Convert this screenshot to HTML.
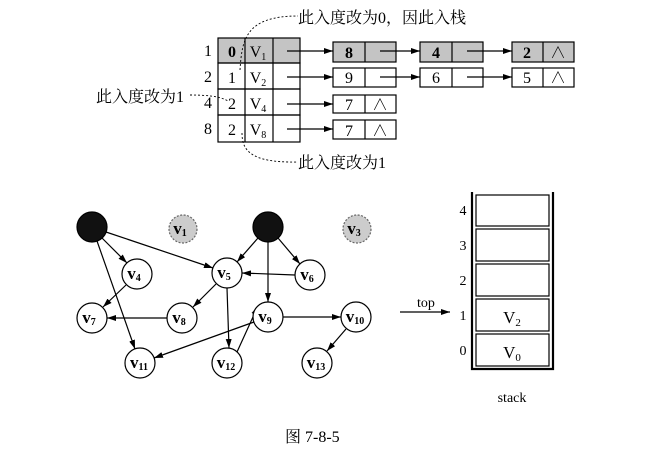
<!DOCTYPE html>
<html><head><meta charset="utf-8"><style>
html,body{margin:0;padding:0;background:#fff;}
svg{display:block;font-family:"Liberation Serif","Noto Serif CJK SC",serif;}
.cn{font-family:"Liberation Serif","Noto Serif CJK SC",serif;font-size:16px;}
</style></head><body>
<svg width="670" height="457" viewBox="0 0 670 457" xmlns="http://www.w3.org/2000/svg">
<defs><marker id="a" markerWidth="9" markerHeight="6" refX="9" refY="3" orient="auto" markerUnits="userSpaceOnUse"><path d="M0,0 L9,3 L0,6 z" fill="#000"/></marker></defs>
<g stroke="#000" stroke-width="1.2" fill="none">
<rect x="218" y="38" width="82" height="25" fill="#c4c4c4"/>
<rect x="218" y="63" width="82" height="26"/>
<rect x="218" y="89" width="82" height="26"/>
<rect x="218" y="115" width="82" height="27"/>
<line x1="245" y1="38" x2="245" y2="142"/><line x1="273" y1="38" x2="273" y2="142"/>
<rect x="333" y="42" width="63" height="20" fill="#c4c4c4"/><line x1="365" y1="42" x2="365" y2="62"/>
<rect x="420" y="42" width="63" height="20" fill="#c4c4c4"/><line x1="452" y1="42" x2="452" y2="62"/>
<rect x="512" y="42" width="62" height="20" fill="#c4c4c4"/><line x1="543" y1="42" x2="543" y2="62"/>
<rect x="333" y="68" width="63" height="19"/><line x1="365" y1="68" x2="365" y2="87"/>
<rect x="420" y="68" width="63" height="19"/><line x1="452" y1="68" x2="452" y2="87"/>
<rect x="512" y="68" width="62" height="19"/><line x1="543" y1="68" x2="543" y2="87"/>
<rect x="333" y="95" width="63" height="18"/><line x1="365" y1="95" x2="365" y2="113"/>
<rect x="333" y="120" width="63" height="19"/><line x1="365" y1="120" x2="365" y2="139"/>
</g>
<g stroke="#000" stroke-width="1.2" marker-end="url(#a)">
<line x1="287" y1="51" x2="333" y2="51"/><line x1="380" y1="51" x2="420" y2="51"/><line x1="467" y1="51" x2="512" y2="51"/>
<line x1="287" y1="77" x2="333" y2="77"/><line x1="380" y1="77" x2="420" y2="77"/><line x1="467" y1="77" x2="512" y2="77"/>
<line x1="287" y1="104" x2="333" y2="104"/><line x1="287" y1="129" x2="333" y2="129"/>
</g>
<g font-size="16" text-anchor="middle">
<text x="208" y="56">1</text><text x="208" y="82">2</text><text x="208" y="108">4</text><text x="208" y="134">8</text>
<text x="232" y="57" font-weight="bold">0</text><text x="232" y="83">1</text><text x="232" y="109">2</text><text x="232" y="135">2</text>
<text x="258" y="57">V<tspan font-size="10" dy="3">1</tspan></text>
<text x="258" y="83">V<tspan font-size="10" dy="3">2</tspan></text>
<text x="258" y="109">V<tspan font-size="10" dy="3">4</tspan></text>
<text x="258" y="135">V<tspan font-size="10" dy="3">8</tspan></text>
<text x="349" y="58" font-weight="bold">8</text><text x="436" y="58" font-weight="bold">4</text><text x="527" y="58" font-weight="bold">2</text>
<text x="349" y="83">9</text><text x="436" y="83">6</text><text x="527" y="83">5</text>
<text x="349" y="110">7</text><text x="349" y="136">7</text>
<text x="558" y="58">∧</text><text x="558" y="83">∧</text><text x="380" y="110">∧</text><text x="380" y="136">∧</text>
</g>
<g stroke="#000" stroke-width="0.9" stroke-dasharray="2,2" fill="none">
<path d="M240,70 C242,40 245,16 298,16"/>
<path d="M190,95 C205,95 220,96 228,101"/>
<path d="M242,133 C242,150 250,163 298,162"/>
</g>
<text class="cn" x="298" y="23">此入度改为0，因此入栈</text>
<text class="cn" x="96" y="102">此入度改为1</text>
<text class="cn" x="298" y="168">此入度改为1</text>
<g stroke="#000" stroke-width="1.2" marker-end="url(#a)">
<line x1="102" y1="238" x2="127" y2="263"/>
<line x1="106" y1="232" x2="213" y2="268"/>
<line x1="97" y1="241" x2="135" y2="349"/>
<line x1="126" y1="285" x2="103" y2="307"/>
<line x1="216" y1="284" x2="193" y2="307"/>
<line x1="227" y1="288" x2="229" y2="348"/>
<line x1="167" y1="318" x2="107" y2="318"/>
<line x1="258" y1="238" x2="237" y2="262"/>
<line x1="278" y1="238" x2="300" y2="264"/>
<line x1="268" y1="242" x2="268" y2="302"/>
<line x1="295" y1="275" x2="242" y2="273"/>
<line x1="283" y1="317" x2="341" y2="317"/>
<line x1="254" y1="322" x2="154" y2="358"/>
<line x1="237" y1="352" x2="258" y2="306"/>
<line x1="346" y1="329" x2="327" y2="351"/>
</g>
<g stroke="#000" stroke-width="1.2" fill="#fff">
<circle cx="92" cy="227" r="15" fill="#111"/><circle cx="268" cy="227" r="15" fill="#111"/>
<circle cx="183" cy="229" r="14" fill="#ccc" stroke="#666" stroke-dasharray="2,1.5"/>
<circle cx="357" cy="229" r="14" fill="#ccc" stroke="#666" stroke-dasharray="2,1.5"/>
<circle cx="137" cy="274" r="15"/><circle cx="227" cy="273" r="15"/><circle cx="310" cy="275" r="15"/>
<circle cx="92" cy="318" r="15"/><circle cx="182" cy="318" r="15"/><circle cx="268" cy="317" r="15"/><circle cx="356" cy="317" r="15"/>
<circle cx="140" cy="363" r="15"/><circle cx="227" cy="363" r="15"/><circle cx="317" cy="363" r="15"/>
</g>
<g font-size="17" text-anchor="middle" font-weight="bold">
<text x="180" y="234">v<tspan font-size="10" dy="2">1</tspan></text>
<text x="354" y="234">v<tspan font-size="10" dy="2">3</tspan></text>
<text x="134" y="279">v<tspan font-size="10" dy="2">4</tspan></text>
<text x="224" y="278">v<tspan font-size="10" dy="2">5</tspan></text>
<text x="307" y="280">v<tspan font-size="10" dy="2">6</tspan></text>
<text x="89" y="323">v<tspan font-size="10" dy="2">7</tspan></text>
<text x="179" y="323">v<tspan font-size="10" dy="2">8</tspan></text>
<text x="265" y="322">v<tspan font-size="10" dy="2">9</tspan></text>
<text x="355" y="322">v<tspan font-size="10" dy="2">10</tspan></text>
<text x="139" y="368">v<tspan font-size="10" dy="2">11</tspan></text>
<text x="226" y="368">v<tspan font-size="10" dy="2">12</tspan></text>
<text x="316" y="368">v<tspan font-size="10" dy="2">13</tspan></text>
</g>
<g stroke="#000" fill="none">
<path d="M472,192 L472,369 L553,369 L553,192" stroke-width="2.2"/>
<g stroke-width="1.2">
<rect x="476" y="195" width="73" height="31"/><rect x="476" y="229" width="73" height="32"/>
<rect x="476" y="264" width="73" height="32"/><rect x="476" y="299" width="73" height="32"/>
<rect x="476" y="334" width="73" height="32"/>
</g>
</g>
<line x1="400" y1="312" x2="450" y2="312" stroke="#000" stroke-width="1.2" marker-end="url(#a)"/>
<g font-size="14" text-anchor="middle">
<text x="463" y="215">4</text><text x="463" y="250">3</text><text x="463" y="285">2</text><text x="463" y="320">1</text><text x="463" y="355">0</text>
<text x="426" y="307">top</text>
<text x="512" y="402">stack</text>
<text x="512" y="323" font-size="17">V<tspan font-size="11" dy="3">2</tspan></text>
<text x="512" y="358" font-size="17">V<tspan font-size="11" dy="3">0</tspan></text>
</g>
<text class="cn" x="285" y="442" font-size="15">图 7-8-5</text>
</svg>
</body></html>
